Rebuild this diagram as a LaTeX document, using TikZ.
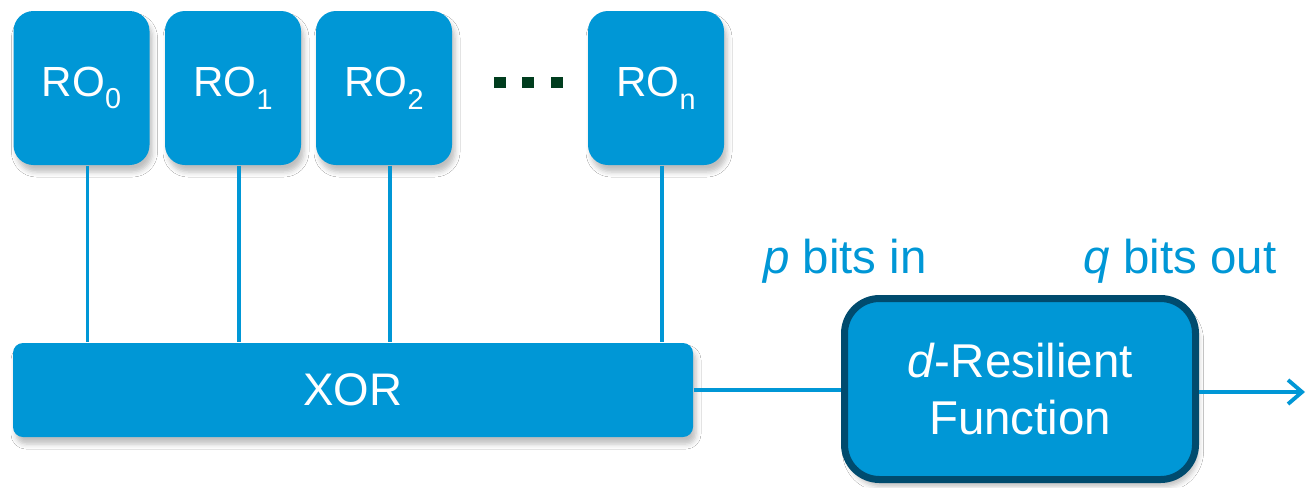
\documentclass[tikz,border=0pt]{standalone}
\usepackage{fontspec}
\setmainfont{Liberation Sans}
\usepackage{tikz}
\usetikzlibrary{arrows.meta,positioning,shadows.blur}
\usepackage{xcolor}
\definecolor{roblue}{HTML}{0097D6}
\definecolor{rodark}{HTML}{004B6E}
\definecolor{dotgreen}{HTML}{003D1E}
\newcommand{\rosub}[1]{\raisebox{-3.6pt}{\fontsize{8.2}{9}\selectfont#1}}

\begin{document}
\begin{tikzpicture}[x=0.1mm, y=-0.1mm, every node/.style={font=\fontsize{13.5}{16}\selectfont},
  boxshadow/.style={blur shadow={shadow xshift=0.3mm, shadow yshift=-0.7mm, shadow blur radius=0.5mm, shadow opacity=25}},
  robox/.style={fill=roblue, text=white, rounded corners=2mm, minimum width=13.6mm, minimum height=15.4mm, font=\fontsize{12}{14}\selectfont, boxshadow},
  wire/.style={roblue, line width=1.1pt}]
  \path[fill=white, use as bounding box] (0,0) rectangle (1307,487);

  % Ring oscillators
  \node[robox] (ro0) at (81.5,88) {RO\rosub{0}};
  \node[robox] (ro1) at (233,88) {RO\rosub{1}};
  \node[robox] (ro2) at (384,88) {RO\rosub{2}};
  \node[robox] (ron) at (656,88) {RO\rosub{n}};
  \foreach \x in {500,528,557}
    \fill[dotgreen] (\x-6,77) rectangle (\x+6,88);

  % XOR stage
  \node[fill=roblue, text=white, rounded corners=1mm, minimum width=68mm, minimum height=9.4mm, font=\fontsize{13}{15}\selectfont, boxshadow] (xor) at (353,390) {XOR};
  \foreach \r in {ro0,ro1,ro2,ron}
    \draw[wire] ([xshift=0.6mm]\r.south) -- ([xshift=0.6mm]\r.south |- xor.north);

  % Resilient function
  \node[fill=roblue, draw=rodark, line width=0.7mm, text=white, rounded corners=3.5mm, minimum width=35.1mm, minimum height=18.1mm, align=center, boxshadow] (drf) at (1020,389) {\textit{d}-Resilient\\Function};
  \coordinate (out) at (1305,392);
  \draw[wire] (xor.east) -- (xor.east -| drf.west);
  \draw[wire, -{Straight Barb[length=1.4mm, width=2.4mm]}] (drf.east |- out) -- (out);

  % Labels
  \node[roblue, anchor=base] (pin) at (845,273) {\textit{p} bits in};
  \node[roblue, anchor=base] (qout) at (1180,273) {\textit{q} bits out};
\end{tikzpicture}
\end{document}
